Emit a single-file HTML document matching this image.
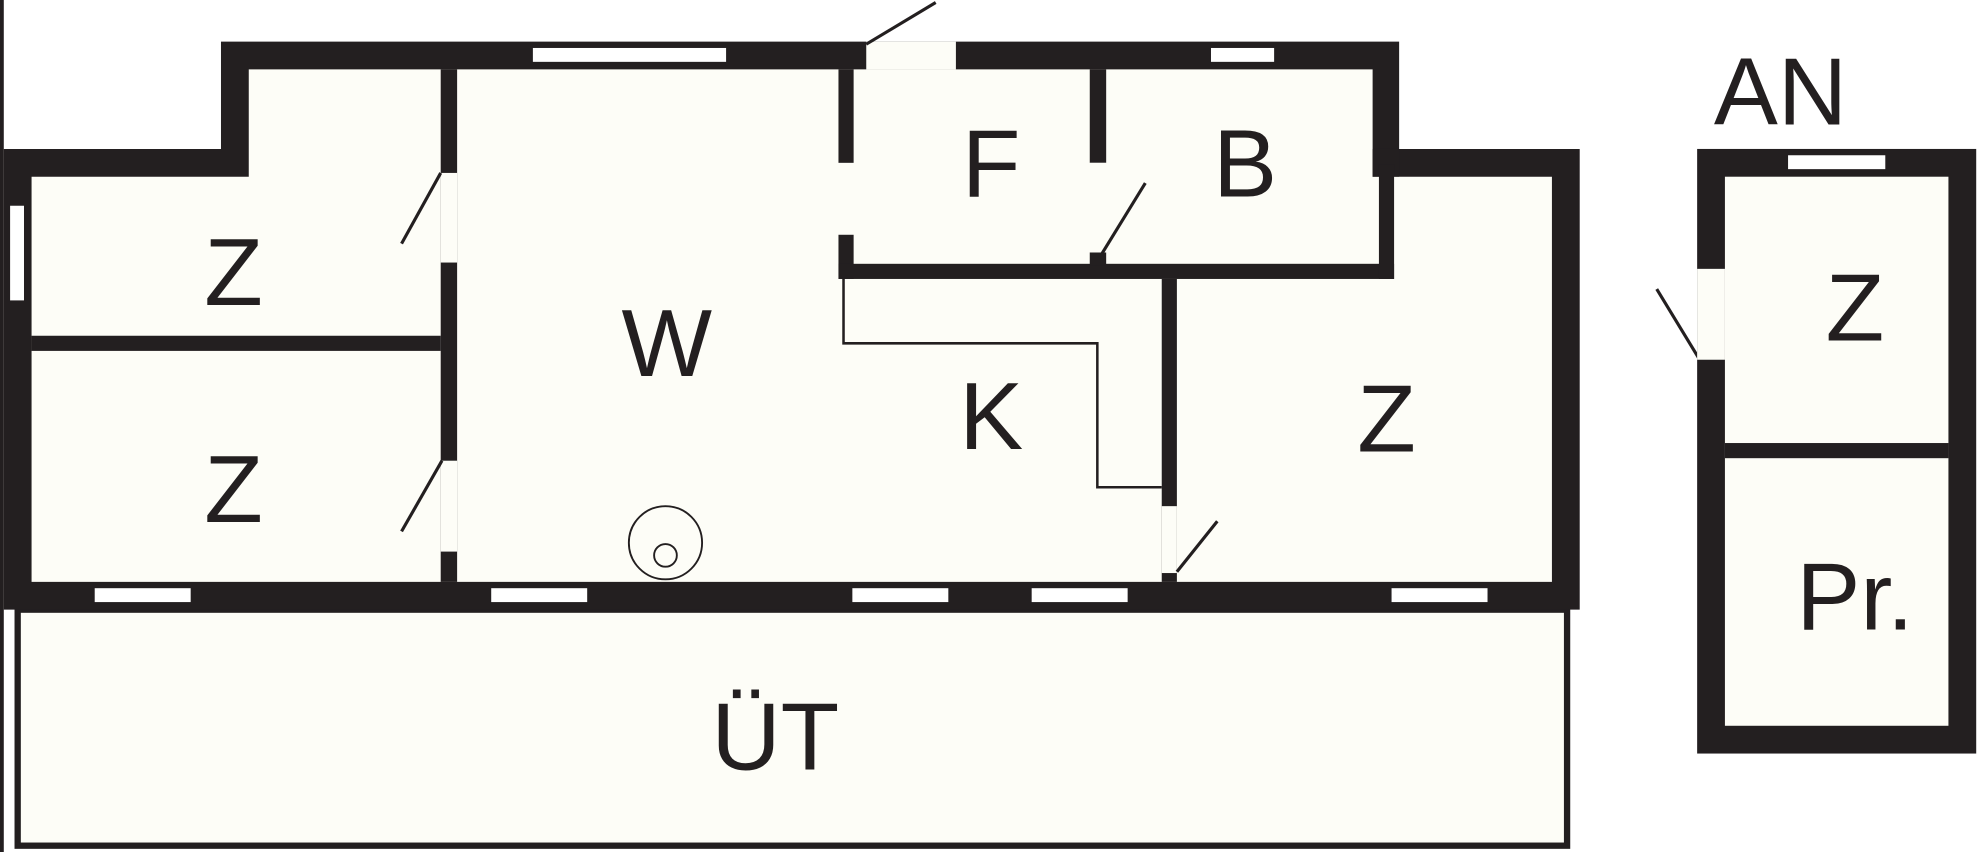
<!DOCTYPE html>
<html><head><meta charset="utf-8"><style>
html,body{margin:0;padding:0;background:#fff;width:1980px;height:852px;overflow:hidden}
svg{display:block}
text{font-family:"Liberation Sans",sans-serif;font-size:76px;fill:#231f20;text-anchor:middle;dominant-baseline:central}
</style></head><body>
<svg width="1980" height="852" viewBox="0 0 1568 675" preserveAspectRatio="none">
<rect x="0" y="0" width="1568" height="675" fill="#fff"/>
<line x1="1.5" y1="0" x2="1.5" y2="675" stroke="#231f20" stroke-width="3"/>
<!-- UT -->
<rect x="14" y="483" width="1227" height="187" fill="#fdfdf7" stroke="#231f20" stroke-width="5"/>
<!-- main outer -->
<polygon points="3,118 175,118 175,33 1108,33 1108,118 1251,118 1251,483 3,483" fill="#231f20"/>
<polygon points="25,140 197,140 197,55 1087,55 1087,140 1229,140 1229,461 25,461" fill="#fdfdf7"/>
<g fill="#231f20">
<rect x="349" y="55" width="13" height="406"/>
<rect x="25" y="266" width="324" height="12"/>
<rect x="664" y="55" width="12" height="74"/>
<rect x="664" y="186" width="12" height="35"/>
<rect x="664" y="209" width="440" height="12"/>
<rect x="1087" y="118" width="21" height="22"/>
<rect x="1092" y="130" width="12" height="91"/>
<rect x="863" y="55" width="13" height="74"/>
<rect x="863" y="200" width="13" height="10"/>
<rect x="920" y="221" width="12" height="240"/>
</g>
<!-- door gaps -->
<g fill="#fdfdf7">
<rect x="349" y="137" width="13" height="71"/>
<rect x="349" y="365" width="13" height="72"/>
<rect x="863" y="129" width="13" height="71"/>
<rect x="920" y="401" width="12" height="53"/>
<rect x="686" y="33" width="71" height="22"/>
</g>
<!-- windows -->
<g fill="#fff">
<rect x="422" y="38" width="153" height="11"/>
<rect x="959" y="38" width="50" height="11"/>
<rect x="8" y="163" width="11" height="75"/>
<rect x="75" y="466" width="76" height="11"/>
<rect x="389" y="466" width="76" height="11"/>
<rect x="675" y="466" width="76" height="11"/>
<rect x="817" y="466" width="76" height="11"/>
<rect x="1102" y="466" width="76" height="11"/>
</g>
<g stroke="#231f20" stroke-width="2.5" fill="none">
<line x1="318" y1="193" x2="349" y2="137"/>
<line x1="318" y1="421" x2="350" y2="365"/>
<line x1="872" y1="202" x2="907" y2="145"/>
<line x1="932" y1="453" x2="964" y2="413"/>
<line x1="686" y1="35" x2="741" y2="2"/>
<line x1="1312" y1="229" x2="1346" y2="285"/>
<polyline points="668,220 668,272 869,272 869,386 920,386" stroke-width="2"/>
<circle cx="527" cy="430" r="29" stroke-width="1.5"/>
<circle cx="527" cy="440" r="9" stroke-width="1.5"/>
</g>
<!-- right building -->
<rect x="1344" y="118" width="221" height="479" fill="#231f20"/>
<rect x="1366" y="140" width="177" height="435" fill="#fdfdf7"/>
<rect x="1366" y="351" width="177" height="12" fill="#231f20"/>
<rect x="1344" y="213" width="22" height="72" fill="#fdfdf7"/>
<rect x="1416" y="123" width="77" height="11" fill="#fff"/>
<text x="185" y="216">Z</text>
<text x="185" y="388">Z</text>
<text x="528" y="272">W</text>
<text x="785" y="130">F</text>
<text x="986" y="130">B</text>
<text x="785" y="330">K</text>
<text x="1098" y="332">Z</text>
<text x="614" y="584">ÜT</text>
<text x="1410" y="73">AN</text>
<text x="1469" y="244">Z</text>
<text x="1469" y="473">Pr.</text>
</svg>
</body></html>
